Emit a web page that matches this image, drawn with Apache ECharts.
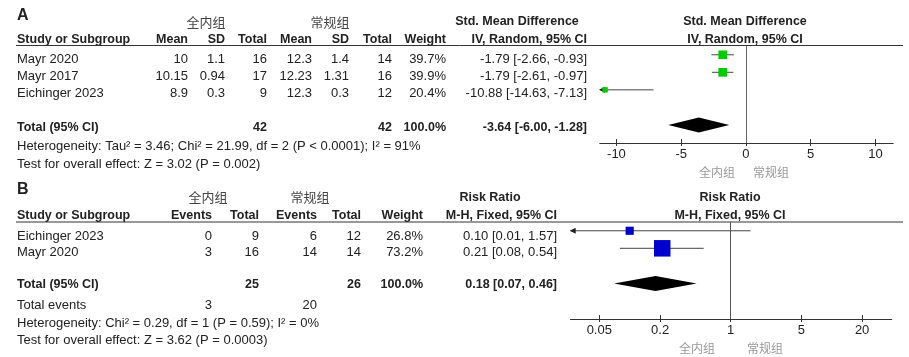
<!DOCTYPE html>
<html><head><meta charset="utf-8">
<script src="https://cdn.jsdelivr.net/npm/echarts@6/dist/echarts.min.js"></script>
<style>html,body{margin:0;padding:0;background:#fff}#c{width:909px;height:357px}</style>
</head><body><div id="c"></div>
<script>
// ---------- Panel A data ----------
const groupExp = '全内组';
const groupCtl = '常规组';
const studiesA = ['Mayr 2020', 'Mayr 2017', 'Eichinger 2023'];
const meanExpA = [10, 10.15, 8.9];
const sdExpA = [1.1, 0.94, 0.3];
const nExpA = [16, 17, 9];
const meanCtlA = [12.3, 12.23, 12.3];
const sdCtlA = [1.4, 1.31, 0.3];
const nCtlA = [14, 16, 12];
const weightA = [39.7, 39.9, 20.4];
const smdA = [-1.79, -1.79, -10.88];
const smdLoA = [-2.66, -2.61, -14.63];
const smdHiA = [-0.93, -0.97, -7.13];
const totalA = [-3.64, -6.00, -1.28];
const totalNA = [42, 42];
const ticksA = [-10, -5, 0, 5, 10];
const hetA = 'Heterogeneity: Tau² = 3.46; Chi² = 21.99, df = 2 (P < 0.0001); I² = 91%';
const testA = 'Test for overall effect: Z = 3.02 (P = 0.002)';

// ---------- Panel B data ----------
const studiesB = ['Eichinger 2023', 'Mayr 2020'];
const evExpB = [0, 3];
const nExpB = [9, 16];
const evCtlB = [6, 14];
const nCtlB = [12, 14];
const weightB = [26.8, 73.2];
const rrB = [0.10, 0.21];
const rrLoB = [0.01, 0.08];
const rrHiB = [1.57, 0.54];
const totalB = [0.18, 0.07, 0.46];
const totalNB = [25, 26];
const totalEvB = [3, 20];
const ticksB = [0.05, 0.2, 1, 5, 20];
const hetB = 'Heterogeneity: Chi² = 0.29, df = 1 (P = 0.59); I² = 0%';
const testB = 'Test for overall effect: Z = 3.62 (P = 0.0003)';

// ---------- layout / style ----------
const FONT = '"Liberation Sans", Arial, sans-serif';
const CJK = '"Noto Sans CJK SC", sans-serif';
const FS = 13;
const FSB = 12.5;
const TXT = '#222';
const g = [];
function t(x, y, text, align, bold, size, color, family) {
  g.push({type: 'text', x: x, y: y, silent: true, style: {
    text: String(text), textAlign: align || 'left', textVerticalAlign: 'middle',
    font: (bold ? 'bold ' : '') + (size || (bold ? FSB : FS)) + 'px ' + (family || FONT),
    fill: color || TXT }});
}
function hline(x1, x2, y) {
  g.push({type: 'line', silent: true, shape: {x1: x1, y1: y, x2: x2, y2: y}, style: {stroke: '#333', lineWidth: 1}});
}
const f2 = v => v.toFixed(2);
const ci = (e, l, h) => f2(e) + ' [' + f2(l) + ', ' + f2(h) + ']';

// Panel A table
t(17, 16, 'A', 'left', true, 16);
t(206, 22, groupExp, 'center', false, 13, '#444', CJK);
t(330, 22, groupCtl, 'center', false, 13, '#444', CJK);
t(517, 22, 'Std. Mean Difference', 'center', true);
t(745, 22, 'Std. Mean Difference', 'center', true);
const colA = [188, 225, 267, 312, 349, 392, 446, 587];
t(17, 40, 'Study or Subgroup', 'left', true);
['Mean', 'SD', 'Total', 'Mean', 'SD', 'Total', 'Weight', 'IV, Random, 95% CI'].forEach((h, i) => t(colA[i], 40, h, 'right', true));
t(745, 40, 'IV, Random, 95% CI', 'center', true);
hline(16, 903, 45.5);
const rowYA = [59.3, 76.3, 93.8];
studiesA.forEach((s, i) => {
  const y = rowYA[i];
  t(17, y, s);
  [meanExpA[i], sdExpA[i], nExpA[i], meanCtlA[i], sdCtlA[i], nCtlA[i], weightA[i].toFixed(1) + '%',
   ci(smdA[i], smdLoA[i], smdHiA[i])].forEach((v, k) => t(colA[k], y, v, 'right'));
});
t(17, 127.3, 'Total (95% CI)', 'left', true);
t(colA[2], 127.3, totalNA[0], 'right', true);
t(colA[5], 127.3, totalNA[1], 'right', true);
t(colA[6], 127.3, '100.0%', 'right', true);
t(colA[7], 127.3, ci(totalA[0], totalA[1], totalA[2]), 'right', true);
t(17, 146.7, hetA);
t(17, 164.3, testA);
t(717, 172, groupExp, 'center', false, 12, '#999', CJK);
t(771, 172, groupCtl, 'center', false, 12, '#999', CJK);

// Panel B table
t(17, 190, 'B', 'left', true, 16);
t(208, 197, groupExp, 'center', false, 13, '#444', CJK);
t(310, 197, groupCtl, 'center', false, 13, '#444', CJK);
t(490, 198, 'Risk Ratio', 'center', true);
t(730, 198, 'Risk Ratio', 'center', true);
const colB = [212, 259, 317, 361, 423, 557];
t(17, 215.7, 'Study or Subgroup', 'left', true);
['Events', 'Total', 'Events', 'Total', 'Weight', 'M-H, Fixed, 95% CI'].forEach((h, i) => t(colB[i], 215.7, h, 'right', true));
t(730, 215.7, 'M-H, Fixed, 95% CI', 'center', true);
hline(16, 903, 222);
const rowYB = [236.7, 252.3];
studiesB.forEach((s, i) => {
  const y = rowYB[i];
  t(17, y, s);
  [evExpB[i], nExpB[i], evCtlB[i], nCtlB[i], weightB[i].toFixed(1) + '%',
   ci(rrB[i], rrLoB[i], rrHiB[i])].forEach((v, k) => t(colB[k], y, v, 'right'));
});
t(17, 285, 'Total (95% CI)', 'left', true);
t(colB[1], 285, totalNB[0], 'right', true);
t(colB[3], 285, totalNB[1], 'right', true);
t(colB[4], 285, '100.0%', 'right', true);
t(colB[5], 285, ci(totalB[0], totalB[1], totalB[2]), 'right', true);
t(17, 305, 'Total events');
t(colB[0], 305, totalEvB[0], 'right');
t(colB[2], 305, totalEvB[1], 'right');
t(17, 323.3, hetB);
t(17, 340.7, testB);
t(697, 348, groupExp, 'center', false, 12, '#999', CJK);
t(765, 348, groupCtl, 'center', false, 12, '#999', CJK);

// ---------- plot series ----------
const AX = {A: [-11.27, 11.36], B: [-1.584, 1.594]};
const lg = Math.log10;
function studyRender(range, color, maxPx, maxW) {
  return function (params, api) {
    const est = api.value(0), lo = api.value(1), hi = api.value(2), row = api.value(3), w = api.value(4);
    const clo = Math.max(lo, range[0]), chi = Math.min(hi, range[1]);
    const p0 = api.coord([clo, row]), p1 = api.coord([chi, row]), pc = api.coord([est, row]);
    const s = maxPx * Math.pow(w / maxW, 0.7);
    const ch = [{type: 'line', shape: {x1: p0[0], y1: p0[1], x2: p1[0], y2: p1[1]}, style: {stroke: '#444', lineWidth: 1}}];
    if (lo < range[0]) ch.push({type: 'polygon', shape: {points: [[p0[0] - 1, p0[1]], [p0[0] + 5, p0[1] - 3], [p0[0] + 5, p0[1] + 3]]}, style: {fill: '#222'}});
    ch.push({type: 'rect', shape: {x: pc[0] - s / 2, y: pc[1] - s / 2, width: s, height: s}, style: {fill: color}});
    return {type: 'group', children: ch};
  };
}
function diamondRender(params, api) {
  const row = api.value(3);
  const a = api.coord([api.value(1), row]), c = api.coord([api.value(0), row]), b = api.coord([api.value(2), row]);
  return {type: 'polygon', shape: {points: [a, [c[0], c[1] - 7.5], b, [c[0], c[1] + 7.5]]}, style: {fill: '#000'}};
}
const dataA = studiesA.map((s, i) => [smdA[i], smdLoA[i], smdHiA[i], i, weightA[i]]);
const dataB = studiesB.map((s, i) => [lg(rrB[i]), lg(rrLoB[i]), lg(rrHiB[i]), i, weightB[i]]);
const totA = [[totalA[0], totalA[1], totalA[2], studiesA.length + 1]];
const totB = [[lg(totalB[0]), lg(totalB[1]), lg(totalB[2]), studiesB.length + 1]];

function xAxes(gi, range, ticks, fmt) {
  const base = {type: 'value', gridIndex: gi, min: range[0], max: range[1], position: 'bottom',
    splitLine: {show: false}, axisLine: {show: true, onZero: false, lineStyle: {color: '#333', width: 1}}};
  return [
    Object.assign({}, base, {
      axisTick: {show: true, inside: false, length: 3, customValues: ticks, lineStyle: {color: '#333'}},
      axisLabel: {show: true, customValues: ticks, formatter: fmt, color: TXT, fontSize: 13, fontFamily: FONT, margin: 5}
    }),
    Object.assign({}, base, {
      axisTick: {show: true, inside: true, length: 4, customValues: ticks, lineStyle: {color: '#333'}},
      axisLabel: {show: false}
    })
  ];
}
const tickValsB = ticksB.map(lg);
const option = {
  backgroundColor: '#fff',
  animation: false,
  grid: [
    {left: 600, top: 46, width: 293, height: 97, outerBoundsMode: 'none', containLabel: false},
    {left: 570.7, top: 222, width: 321, height: 97, outerBoundsMode: 'none', containLabel: false}
  ],
  xAxis: [].concat(
    xAxes(0, AX.A, ticksA, v => String(Math.round(v))),
    xAxes(1, AX.B, tickValsB, v => { const k = tickValsB.findIndex(x => Math.abs(x - v) < 1e-6); return k >= 0 ? String(ticksB[k]) : ''; })
  ),
  yAxis: [
    {type: 'value', gridIndex: 0, inverse: true, min: -0.5, max: 5.03, show: false},
    {type: 'value', gridIndex: 1, inverse: true, min: -0.5, max: 5.03, show: false}
  ],
  series: [
    {type: 'custom', xAxisIndex: 0, yAxisIndex: 0, clip: false, data: dataA, encode: {x: [0, 1, 2], y: 3},
     renderItem: studyRender(AX.A, '#00cc00', 8.7, Math.max.apply(null, weightA)),
     markLine: {silent: true, symbol: 'none', label: {show: false}, lineStyle: {color: '#666', width: 1, type: 'solid'}, data: [{xAxis: 0}]}},
    {type: 'custom', xAxisIndex: 0, yAxisIndex: 0, clip: false, data: totA, encode: {x: [0, 1, 2], y: 3}, renderItem: diamondRender},
    {type: 'custom', xAxisIndex: 2, yAxisIndex: 1, clip: false, data: dataB, encode: {x: [0, 1, 2], y: 3},
     renderItem: studyRender(AX.B, '#0000cc', 16.5, Math.max.apply(null, weightB)),
     markLine: {silent: true, symbol: 'none', label: {show: false}, lineStyle: {color: '#555', width: 1, type: 'solid'}, data: [{xAxis: 0}]}},
    {type: 'custom', xAxisIndex: 2, yAxisIndex: 1, clip: false, data: totB, encode: {x: [0, 1, 2], y: 3}, renderItem: diamondRender}
  ],
  graphic: {elements: g}
};
const chart = echarts.init(document.getElementById('c'), null, {renderer: 'canvas'});
chart.setOption(option);
</script>
</body></html>
